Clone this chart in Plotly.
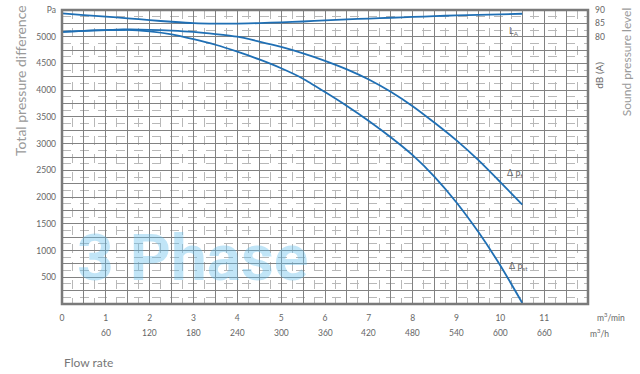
import plotly.graph_objects as go

# ---- data ----
flow_min = [0, 0.5, 1, 1.5, 2, 2.5, 3, 3.5, 4, 4.5, 5, 5.5, 6, 6.5, 7, 7.5, 8, 8.5, 9, 9.5, 10, 10.5]
dp_total = [5090, 5110, 5125, 5135, 5130, 5115, 5090, 5050, 5000, 4910, 4810, 4690, 4550, 4390,
            4200, 3970, 3700, 3390, 3060, 2690, 2280, 1860]
dp_static = [5090, 5110, 5125, 5130, 5100, 5045, 4955, 4850, 4720, 4575, 4410, 4215, 3965, 3705,
             3425, 3120, 2785, 2380, 1900, 1345, 720, 20]
la_db = [88.7, 88.1, 87.5, 86.9, 86.2, 85.6, 85.1, 84.9, 84.9, 85.1, 85.4, 85.7, 86.1, 86.5,
         86.8, 87.1, 87.4, 87.7, 88.0, 88.2, 88.4, 88.6]

x_tick_min = [0, 1, 2, 3, 4, 5, 6, 7, 8, 9, 10, 11]
x_tick_h = [60, 120, 180, 240, 300, 360, 420, 480, 540, 600, 660]
y_tick_vals = [500, 1000, 1500, 2000, 2500, 3000, 3500, 4000, 4500, 5000]
y2_tick_vals = [80, 85, 90]

BLUE = "#1f6fb4"
TXT = "#666666"
FONT = "Lato, 'Open Sans', sans-serif"
TICK = 8.5

# grid tick arrays
x_major = [i * 0.5 for i in range(0, 25)]
x_text = [str(int(v)) if (v == int(v) and int(v) in x_tick_min) else " " for v in x_major]
y_major = [i * 250 for i in range(0, 23)]
y_text = []
for v in y_major:
    if v == 5500:
        y_text.append("Pa")
    elif v in y_tick_vals:
        y_text.append(str(v))
    else:
        y_text.append(" ")

fig = go.Figure()
for ys in (dp_total, dp_static):
    fig.add_trace(go.Scatter(x=flow_min, y=ys, mode="lines",
                             line=dict(color=BLUE, width=1.8, shape="spline", smoothing=0.6),
                             showlegend=False, hoverinfo="skip"))
fig.add_trace(go.Scatter(x=flow_min, y=la_db, mode="lines", yaxis="y2",
                         line=dict(color=BLUE, width=1.8, shape="spline", smoothing=0.6),
                         showlegend=False, hoverinfo="skip"))

annotations = []
# watermark
annotations.append(dict(x=2.97, y=850, xref="x", yref="y", text="3 Phase", showarrow=False,
                        font=dict(family="Roboto, 'Open Sans', sans-serif", size=64, weight="bold",
                                  color="rgba(100,190,235,0.40)"),
                        xanchor="center", yanchor="middle"))
# second tick row (m3/h)
for v, h in zip(x_tick_min[1:], x_tick_h):
    annotations.append(dict(x=v, y=-0.0976, xref="x", yref="paper", text=str(h), showarrow=False,
                            font=dict(family=FONT, size=TICK, color=TXT),
                            xanchor="center", yanchor="middle"))
# units
annotations.append(dict(x=1.0437, y=-0.043, xref="paper", yref="paper", text="m<sup>3</sup>/min",
                        showarrow=False, font=dict(family=FONT, size=TICK, color=TXT),
                        xanchor="center", yanchor="middle"))
annotations.append(dict(x=1.0228, y=-0.0976, xref="paper", yref="paper", text="m<sup>3</sup>/h",
                        showarrow=False, font=dict(family=FONT, size=TICK, color=TXT),
                        xanchor="center", yanchor="middle"))
# curve labels
annotations.append(dict(x=10.31, y=5106, xref="x", yref="y", text="L<sub>A</sub>", showarrow=False,
                        font=dict(family=FONT, size=9, color=TXT), xanchor="center", yanchor="middle"))
annotations.append(dict(x=10.34, y=2455, xref="x", yref="y", text="Δ p<sub>t</sub>", showarrow=False,
                        font=dict(family=FONT, size=9, color=TXT), xanchor="center", yanchor="middle"))
annotations.append(dict(x=10.42, y=719, xref="x", yref="y", text="Δ p<sub>st</sub>", showarrow=False,
                        font=dict(family=FONT, size=9, color=TXT), xanchor="center", yanchor="middle"))
# axis titles
annotations.append(dict(x=-0.079, y=0.76, xref="paper", yref="paper", text="Total pressure difference",
                        showarrow=False, textangle=-90,
                        font=dict(family=FONT, size=14, color="#9a9a9a"),
                        xanchor="center", yanchor="middle"))
annotations.append(dict(x=0.0, y=-0.198, xref="paper", yref="paper", text="Flow rate",
                        showarrow=False, font=dict(family=FONT, size=12, color="#777777"),
                        xanchor="left", yanchor="middle"))
annotations.append(dict(x=1.0209, y=0.78, xref="paper", yref="paper", text="dB (A)",
                        showarrow=False, textangle=-90, font=dict(family=FONT, size=10, color=TXT),
                        xanchor="center", yanchor="middle"))
annotations.append(dict(x=1.072, y=0.822, xref="paper", yref="paper", text="Sound pressure level",
                        showarrow=False, textangle=-90, font=dict(family=FONT, size=12, color="#9a9a9a"),
                        xanchor="center", yanchor="middle"))

fig.update_layout(
    width=640, height=374,
    margin=dict(l=62, r=52, t=10, b=70, autoexpand=False),
    paper_bgcolor="white", plot_bgcolor="white",
    font=dict(family=FONT, size=TICK, color=TXT),
    xaxis=dict(range=[0, 12], tickmode="array", tickvals=x_major, ticktext=x_text,
               showgrid=True, gridcolor="#828282", gridwidth=1, zeroline=False, automargin=False,
               ticks="", ticklabelstandoff=7, showline=False,
               minor=dict(dtick=0.25, tick0=0, showgrid=True, gridcolor="#b8b8b8",
                          griddash="dash", gridwidth=1)),
    yaxis=dict(range=[0, 5500], tickmode="array", tickvals=y_major, ticktext=y_text,
               showgrid=True, gridcolor="#828282", gridwidth=1, zeroline=False, automargin=False,
               ticks="", ticklabelstandoff=5, showline=False,
               minor=dict(dtick=125, tick0=0, showgrid=True, gridcolor="#b8b8b8",
                          griddash="dash", gridwidth=1)),
    yaxis2=dict(range=[-20, 90], overlaying="y", side="right", tickmode="array",
                tickvals=y2_tick_vals, ticktext=[str(v) for v in y2_tick_vals], automargin=False,
                showgrid=False, zeroline=False, ticks="", ticklabelstandoff=6, showline=False),
    annotations=annotations,
    shapes=[dict(type="rect", xref="paper", yref="paper", x0=0, x1=1, y0=0, y1=1,
                 line=dict(color="#7a7a7a", width=2.5), layer="above")],
)

fig.write_html("out.html", config={"displayModeBar": False},
               post_script="document.body.style.margin='0';")
